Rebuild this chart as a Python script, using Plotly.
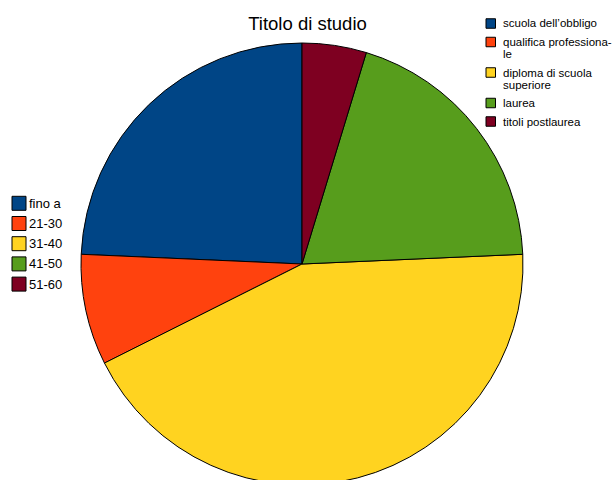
import plotly.graph_objects as go

# Share of respondents by educational qualification (percent)
titoli = [
    "scuola dell’obbligo",
    "qualifica professiona-\nle",
    "diploma di scuola\nsuperiore",
    "laurea",
    "titoli postlaurea",
]
eta = ["fino a", "21-30", "31-40", "41-50", "51-60"]
quote = [24.3, 8.1, 43.3, 19.6, 4.7]
colori = ["#004586", "#ff420e", "#ffd320", "#579d1c", "#7e0021"]

W, H = 613, 485
TOP = 43
FONT = "Liberation Sans, Arial, Helvetica, sans-serif"


def px_x(x):
    return x / W


def px_y(y):
    return (H - y) / (H - TOP)


# Plotly anchors the first counter-clockwise slice by its end edge,
# so turn the pie back by that slice's angle to start it at 12 o'clock.
rot = -360.0 * quote[0] / sum(quote)

fig = go.Figure()
fig.add_trace(go.Pie(
    labels=[t.replace("\n", " ") for t in titoli],
    values=quote,
    marker=dict(colors=colori, line=dict(color="black", width=1)),
    sort=False,
    direction="counterclockwise",
    rotation=rot,
    textinfo="none",
    showlegend=False,
    domain=dict(x=[81 / W, 523 / W], y=[0, 1]),
))

shapes, annotations = [], []

# Left key: age bands
y0, step, sw = 203.3, 20.2, 14
for i, (lab, col) in enumerate(zip(eta, colori)):
    cy = y0 + i * step
    shapes.append(dict(type="rect", xref="paper", yref="paper",
                       x0=px_x(12), x1=px_x(12 + sw),
                       y0=px_y(cy - sw / 2), y1=px_y(cy + sw / 2),
                       fillcolor=col, line=dict(color="black", width=1)))
    annotations.append(dict(text=lab, xref="paper", yref="paper",
                            x=px_x(27), y=px_y(cy), xanchor="left", yanchor="middle",
                            showarrow=False, font=dict(family=FONT, size=13, color="black")))

# Right key: qualifications, wrapped entries take extra lines
cy = 23.5
sw = 9.5
for lab, col in zip(titoli, colori):
    righe = lab.split("\n")
    shapes.append(dict(type="rect", xref="paper", yref="paper",
                       x0=px_x(486), x1=px_x(486 + sw),
                       y0=px_y(cy - sw / 2), y1=px_y(cy + sw / 2),
                       fillcolor=col, line=dict(color="black", width=1)))
    for k, riga in enumerate(righe):
        annotations.append(dict(text=riga, xref="paper", yref="paper",
                                x=px_x(500.5), y=px_y(cy + k * 12), xanchor="left",
                                yanchor="middle", showarrow=False,
                                font=dict(family=FONT, size=11.5, color="black")))
    cy += 18.5 + 12 * (len(righe) - 1)

fig.update_layout(
    width=W, height=H,
    margin=dict(l=0, r=0, t=TOP, b=0, pad=0),
    paper_bgcolor="white", plot_bgcolor="white",
    title=dict(text="Titolo di studio", x=307.5 / W, xanchor="center",
               y=1 - 23.5 / H, yanchor="middle", yref="container",
               font=dict(family=FONT, size=18.5, color="black")),
    shapes=shapes,
    annotations=annotations,
)

fig.write_html(
    "out.html",
    post_script="document.documentElement.style.overflow='hidden';"
                "document.body.style.overflow='hidden';document.body.style.margin='0';",
)
